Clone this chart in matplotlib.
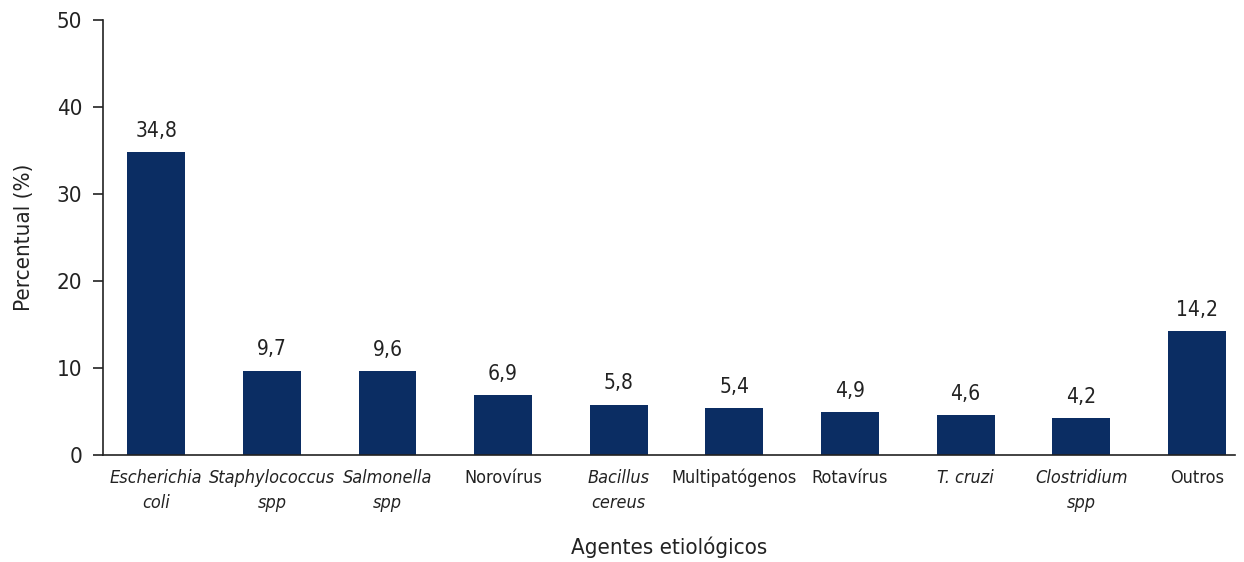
import matplotlib.pyplot as plt
from matplotlib import font_manager as fm

agentes = ['Escherichia\ncoli', 'Staphylococcus\nspp', 'Salmonella\nspp', 'Norovírus',
           'Bacillus\ncereus', 'Multipatógenos', 'Rotavírus', 'T. cruzi',
           'Clostridium\nspp', 'Outros']
italico = [True, True, True, False, True, False, False, True, True, False]
percentual = [34.8, 9.7, 9.6, 6.9, 5.8, 5.4, 4.9, 4.6, 4.2, 14.2]
rotulos = ['34,8', '9,7', '9,6', '6,9', '5,8', '5,4', '4,9', '4,6', '4,2', '14,2']

# procura uma fonte estreita (condensed / narrow), se houver
estreitas = [f for f in fm.fontManager.ttflist
             if f.stretch in ('condensed', 'semi-condensed', 'extra-condensed')
             or 'Narrow' in f.name or 'Condensed' in f.name]
if estreitas:
    fonte = estreitas[0].name
    plt.rcParams['font.stretch'] = 'condensed'
else:
    fonte = 'Liberation Sans'
plt.rcParams['font.family'] = [fonte, 'DejaVu Sans']

fig = plt.figure(figsize=(12.44, 5.62), dpi=100)
ax = fig.add_axes([0.0828, 0.1904, 0.91, 0.774])

x = range(len(agentes))
ax.bar(x, percentual, width=0.5, color='#0b2d63')
for xi, v, r in zip(x, percentual, rotulos):
    ax.annotate(r, (xi, v), xytext=(0, 8), textcoords='offset points',
                ha='center', va='bottom', fontsize=15, color='#222222')

ax.set_xlim(-0.46, 9.33)
ax.set_ylim(0, 50)
ax.set_yticks([0, 10, 20, 30, 40, 50])
ax.set_xticks(list(x))
ax.set_xticklabels(agentes, fontsize=13, color='#222222', linespacing=1.5)
for lab, it in zip(ax.get_xticklabels(), italico):
    if it:
        lab.set_style('italic')
ax.tick_params(axis='x', length=0, pad=10)
ax.tick_params(axis='y', labelsize=16, length=7, width=1.2, colors='#222222', pad=8)
for s in ['top', 'right']:
    ax.spines[s].set_visible(False)
for s in ['left', 'bottom']:
    ax.spines[s].set_linewidth(1.2)
    ax.spines[s].set_color('#222222')

ax.set_ylabel('Percentual (%)', fontsize=16, color='#222222', labelpad=16)
ax.set_xlabel('Agentes etiológicos', fontsize=16, color='#222222', labelpad=18)

fig.savefig('out.png', dpi=100)
